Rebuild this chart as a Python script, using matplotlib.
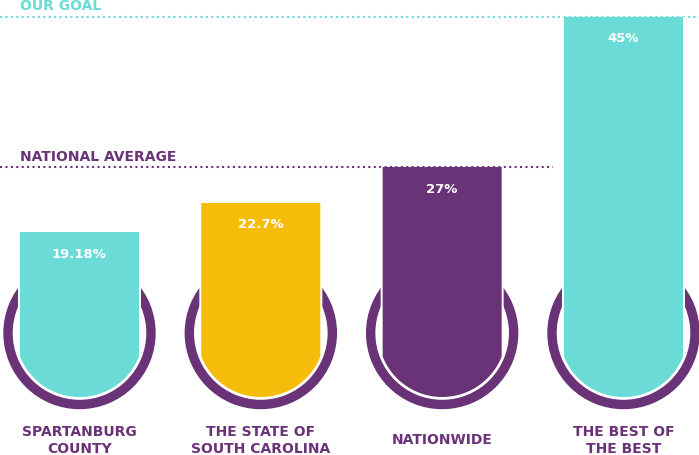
import numpy as np
import matplotlib
matplotlib.use("Agg")
import matplotlib.pyplot as plt
import matplotlib.transforms as mtransforms
from matplotlib.path import Path
from matplotlib.patches import Annulus

# data
categories = ["SPARTANBURG\nCOUNTY", "THE STATE OF\nSOUTH CAROLINA", "NATIONWIDE", "THE BEST OF\nTHE BEST"]
rates = [19.18, 22.7, 27, 45]
rate_labels = ["19.18%", "22.7%", "27%", "45%"]
goal = 45
national_avg = 27

TEAL = "#6adbd6"
YELLOW = "#f5bd0a"
PURPLE = "#6a3277"
bar_colors = [TEAL, YELLOW, PURPLE, TEAL]

# geometry in pixels (figure is drawn at 100 dpi)
RING_CY = 59.6      # ring centre above the zero line
RING_R = 75.5
RING_W = 8
BAR_R = 64
BAR_HALF = 59.5

plt.rcParams["font.family"] = "DejaVu Sans"
plt.rcParams["font.weight"] = "bold"

fig = plt.figure(figsize=(6.99, 4.55), dpi=100)
ax = fig.add_axes([0, 0, 1, 1])
ax.set_xlim(-0.4384, 3.4164)
ax.set_ylim(-7.47, 47.0)
ax.axis("off")


def tombstone(half, r, cy):
    d = np.sqrt(r ** 2 - half ** 2)
    a0 = np.arctan2(-d, -half)
    a1 = np.arctan2(-d, half)
    t = np.linspace(a0, a1, 80)
    arc = np.column_stack([r * np.cos(t), cy + r * np.sin(t)])
    verts = np.vstack([[-half, 3000], arc, [half, 3000], [-half, 3000]])
    codes = [Path.MOVETO] + [Path.LINETO] * (len(verts) - 2) + [Path.CLOSEPOLY]
    return Path(verts, codes)


x = np.arange(len(rates))
ymin = ax.get_ylim()[0]
heights = np.array(rates) - ymin

halo = ax.bar(x, heights, bottom=ymin, width=0.9, color="white", zorder=2)
bars = ax.bar(x, heights, bottom=ymin, width=0.9, color=bar_colors, zorder=3)

for i in x:
    off = mtransforms.ScaledTranslation(i, 0, ax.transData)
    ring = Annulus((0, RING_CY), RING_R, RING_W, color=PURPLE, zorder=1, transform=off)
    ax.add_patch(ring)
    halo[i].set_clip_path(tombstone(BAR_HALF + 2, BAR_R + 2, RING_CY), off)
    bars[i].set_clip_path(tombstone(BAR_HALF, BAR_R, RING_CY), off)

ax.set_xlim(-0.4384, 3.4164)
ax.set_ylim(-7.47, 47.0)

# reference lines
ax.axhline(goal, color=TEAL, lw=1.5, ls=(0, (1, 1.6)), dash_capstyle="butt", zorder=1.5)
ax.axhline(national_avg, xmax=553 / 699, color=PURPLE, lw=1.5, ls=(0, (1, 1.6)),
           dash_capstyle="butt", zorder=1.5)

ax.annotate("OUR GOAL", xy=(0, goal), xycoords=("axes fraction", "data"),
            xytext=(20, 7), textcoords="offset pixels", color=TEAL,
            fontsize=10, fontweight="bold", va="baseline", ha="left")
ax.annotate("NATIONAL AVERAGE", xy=(0, national_avg), xycoords=("axes fraction", "data"),
            xytext=(20, 6), textcoords="offset pixels", color=PURPLE,
            fontsize=10, fontweight="bold", va="baseline", ha="left")

for i, (v, lab) in enumerate(zip(rates, rate_labels)):
    ax.annotate(lab, xy=(i, v), xytext=(0, -22), textcoords="offset pixels",
                color="white", fontsize=9.5, fontweight="bold",
                ha="center", va="center", zorder=4)

label_tr = mtransforms.blended_transform_factory(ax.transData, ax.transAxes)
for i, cat in enumerate(categories):
    ax.text(i, (455 - 440.5) / 455, cat, transform=label_tr, color=PURPLE,
            fontsize=10, fontweight="bold", ha="center", va="center",
            multialignment="center", linespacing=1.25)

fig.savefig("out.png", dpi=100)
